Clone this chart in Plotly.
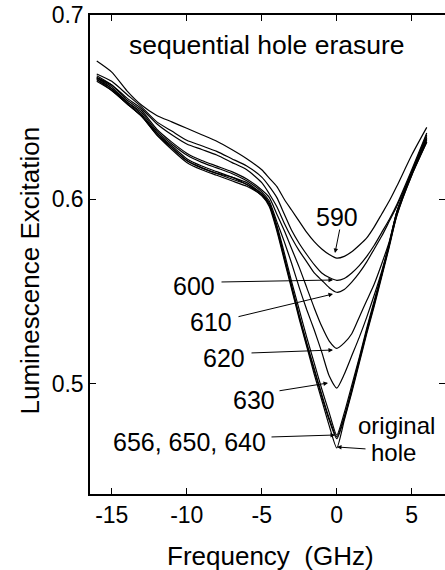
import plotly.graph_objects as go

# ---------------- data ----------------
freq = [-16, -15, -14, -13, -12, -11, -10, -9, -8, -7, -6, -5, -4.5, -4, -3.5, -3, -2.5,
        -2, -1.5, -1, -0.5, 0, 0.5, 1, 1.5, 2, 2.5, 3, 3.5, 4, 5, 6]

erase_590 = [0.675, 0.669, 0.659, 0.651, 0.6455, 0.642, 0.6385, 0.635, 0.6315, 0.627, 0.622, 0.616,
             0.6115, 0.607, 0.600, 0.594, 0.588, 0.582, 0.577, 0.573, 0.570, 0.568, 0.569, 0.5715,
             0.575, 0.579, 0.585, 0.592, 0.599, 0.607, 0.624, 0.639]
erase_600 = [0.668, 0.664, 0.657, 0.650, 0.642, 0.637, 0.632, 0.629, 0.626, 0.622, 0.618, 0.612,
             0.607, 0.601, 0.592, 0.583, 0.576, 0.570, 0.5645, 0.560, 0.5575, 0.556, 0.557, 0.560,
             0.564, 0.569, 0.575, 0.582, 0.589, 0.597, 0.616, 0.636]
erase_610 = [0.666, 0.662, 0.655, 0.649, 0.641, 0.635, 0.630, 0.627, 0.624, 0.620, 0.616, 0.609,
             0.603, 0.596, 0.587, 0.579, 0.572, 0.566, 0.560, 0.556, 0.552, 0.5495, 0.551, 0.555,
             0.560, 0.566, 0.573, 0.580, 0.588, 0.596, 0.615, 0.635]
erase_620 = [0.667, 0.662, 0.654, 0.648, 0.638, 0.631, 0.625, 0.621, 0.618, 0.615, 0.611, 0.605,
             0.601, 0.592, 0.583, 0.573, 0.563, 0.552, 0.541, 0.531, 0.523, 0.519, 0.522, 0.527,
             0.536, 0.545, 0.554, 0.565, 0.577, 0.593, 0.614, 0.634]
erase_630 = [0.666, 0.661, 0.653, 0.647, 0.637, 0.630, 0.624, 0.620, 0.617, 0.614, 0.610, 0.604,
             0.599, 0.588, 0.577, 0.565, 0.552, 0.540, 0.529, 0.517, 0.504, 0.4975, 0.505, 0.515,
             0.525, 0.536, 0.548, 0.561, 0.576, 0.593, 0.614, 0.633]
erase_640 = [0.665, 0.660, 0.653, 0.646, 0.636, 0.629, 0.622, 0.618, 0.615, 0.612, 0.609, 0.603,
             0.598, 0.586, 0.571, 0.555, 0.540, 0.525, 0.511, 0.497, 0.484, 0.472, 0.484, 0.499,
             0.514, 0.530, 0.545, 0.560, 0.576, 0.593, 0.614, 0.633]
erase_650 = [0.666, 0.660, 0.652, 0.645, 0.636, 0.628, 0.621, 0.617, 0.614, 0.612, 0.608, 0.603,
             0.597, 0.585, 0.569, 0.553, 0.537, 0.522, 0.508, 0.494, 0.481, 0.471, 0.482, 0.497,
             0.513, 0.529, 0.544, 0.559, 0.575, 0.592, 0.614, 0.632]
erase_656 = [0.665, 0.659, 0.652, 0.645, 0.635, 0.628, 0.621, 0.617, 0.614, 0.611, 0.608, 0.602,
             0.597, 0.584, 0.568, 0.552, 0.536, 0.521, 0.507, 0.493, 0.480, 0.470, 0.481, 0.496,
             0.512, 0.528, 0.543, 0.559, 0.575, 0.591, 0.613, 0.631]
original_hole = [0.664, 0.659, 0.652, 0.645, 0.635, 0.627, 0.620, 0.616, 0.613, 0.610, 0.607, 0.602,
                 0.596, 0.583, 0.567, 0.551, 0.535, 0.520, 0.505, 0.491, 0.477, 0.465, 0.480, 0.495,
                 0.511, 0.527, 0.542, 0.558, 0.574, 0.591, 0.613, 0.631]

series_names = ["590", "600", "610", "620", "630", "640", "650", "656", "original hole"]
series_values = [erase_590, erase_600, erase_610, erase_620, erase_630,
                 erase_640, erase_650, erase_656, original_hole]

x_tickvals = [-15, -10, -5, 0, 5]
x_ticktext = ["-15", "-10", "-5", "0", "5"]
y_tickvals = [0.5, 0.6, 0.7]
y_ticktext = ["0.5", "0.6", "0.7"]

x_title = "Frequency  (GHz)"
y_title = "Luminescence Excitation"
panel_title = "sequential hole erasure"

# ---------------- layout constants ----------------
W, H = 445, 570
ML, MR, MT, MB = 90, 0, 15, 76
XMIN = -16.45
XMAX = XMIN + (W - ML - MR) / 15.0
YMIN, YMAX = 0.44, 0.70
FONT = "Liberation Sans, Arial, Helvetica, sans-serif"


def pxx(px):
    return (px - ML) / (W - ML - MR)


def pxy(py):
    return (H - MB - py) / (H - MB - MT)


fig = go.Figure()
for i, (name, vals) in enumerate(zip(series_names, series_values)):
    # the last trace sits on the (identical) right-hand axis so that axis is drawn
    fig.add_trace(go.Scatter(x=freq, y=vals, mode="lines", name=name,
                             yaxis="y2" if i == len(series_names) - 1 else "y",
                             line=dict(color="black", width=1.2, shape="spline", smoothing=0.6),
                             showlegend=False, hoverinfo="skip"))

annotations = []

# texts: (text, px, py, size)
text_items = [
    (panel_title, 266.5, 45, 26.5),
    ("590", 336.5, 217, 25),
    ("600", 194, 286, 25),
    ("610", 211, 322, 25),
    ("620", 224, 358, 25),
    ("630", 254, 400, 25),
    ("656, 650, 640", 189, 442, 25),
    ("original", 396.5, 425, 24),
    ("hole", 393, 452, 24),
]
for t, px, py, fs in text_items:
    annotations.append(dict(text=t, x=pxx(px), y=pxy(py), xref="paper", yref="paper",
                            xanchor="center", yanchor="middle", showarrow=False, borderpad=0,
                            font=dict(family=FONT, size=fs, color="black")))

# arrows: tip (px, py), tail (px, py)
arrow_items = [
    ((335, 253), (340, 228)),
    ((333, 280), (220, 282)),
    ((333, 294), (237, 317)),
    ((333, 350), (250, 353)),
    ((328, 383), (278, 391)),
    ((335, 435), (270, 437)),
    ((337, 447), (367, 449)),
]
for (tx, ty), (sx, sy) in arrow_items:
    annotations.append(dict(text="", x=pxx(tx), y=pxy(ty), xref="paper", yref="paper",
                            ax=sx - tx, ay=sy - ty, axref="pixel", ayref="pixel",
                            showarrow=True, arrowhead=2, arrowsize=0.9, arrowwidth=1,
                            arrowcolor="black", standoff=0, startstandoff=0))

# axis titles
annotations.append(dict(text=x_title, x=pxx(270), y=pxy(556), xref="paper", yref="paper",
                        xanchor="center", yanchor="middle", showarrow=False,
                        font=dict(family=FONT, size=26, color="black")))
annotations.append(dict(text=y_title, x=pxx(29), y=pxy(270.5), xref="paper", yref="paper",
                        xanchor="center", yanchor="middle", showarrow=False, textangle=-90,
                        font=dict(family=FONT, size=26, color="black")))

fig.update_layout(
    width=W, height=H,
    margin=dict(l=ML, r=MR, t=MT, b=MB, pad=0),
    paper_bgcolor="white", plot_bgcolor="white",
    font=dict(family=FONT, color="black"),
    annotations=annotations,
    xaxis=dict(range=[XMIN, XMAX], tickvals=x_tickvals, ticktext=x_ticktext,
               ticks="inside", ticklen=6, tickwidth=1.2, tickcolor="black",
               showline=True, linecolor="black", linewidth=1.5, mirror="ticks",
               showgrid=False, zeroline=False, tickfont=dict(family=FONT, size=23, color="black")),
    yaxis=dict(range=[YMIN, YMAX], tickvals=y_tickvals, ticktext=y_ticktext,
               ticks="inside", ticklen=6, tickwidth=1.2, tickcolor="black",
               showline=True, linecolor="black", linewidth=1.5,
               showgrid=False, zeroline=False, tickfont=dict(family=FONT, size=23, color="black")),
    yaxis2=dict(range=[YMIN, YMAX], overlaying="y", side="right", tickvals=[0.5, 0.6],
                ticks="inside", ticklen=6, tickwidth=1.2, tickcolor="black",
                showticklabels=False, showline=False, showgrid=False, zeroline=False),
)

fig.write_html("out.html", config={"displayModeBar": False},
               post_script="document.body.style.margin='0px';document.body.style.overflow='hidden';")
